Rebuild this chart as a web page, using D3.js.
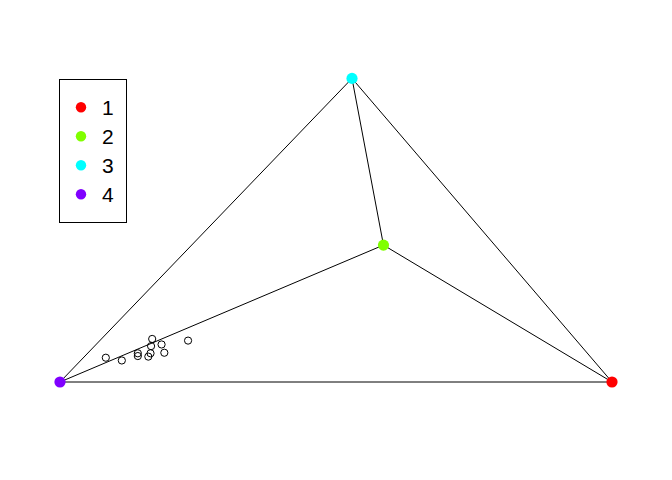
<!DOCTYPE html>
<html>
<head>
<meta charset="utf-8"/>
<title>Simplex plot</title>
<script src="https://d3js.org/d3.v7.min.js"></script>
<style>
  body { margin: 0; background: #fff; }
  svg { display: block; }
</style>
</head>
<body>
<svg width="672" height="480"></svg>
<script>
// vertex labels, colours and projected positions (x, y in plot units)
var vertexLabels = ["1", "2", "3", "4"];
var vertexColors = ["#FF0000", "#80FF00", "#00FFFF", "#8000FF"];
var vertexX = [1.000, 0.586, 0.529, 0.000];
var vertexY = [0.000, 0.248, 0.550, 0.000];

// observations, projected into the same plane
var pointX = [0.083, 0.112, 0.141, 0.141, 0.160, 0.164, 0.165, 0.167, 0.184, 0.189, 0.232];
var pointY = [0.044, 0.039, 0.052, 0.047, 0.046, 0.052, 0.065, 0.078, 0.068, 0.053, 0.075];

var svg = d3.select("svg");

// equal aspect: one unit = 552 px
var x = d3.scaleLinear().domain([0, 1]).range([60, 612]);
var y = d3.scaleLinear().domain([0, 1]).range([382, -170]);

// every edge of the tetrahedron
var edges = [];
for (var i = 0; i < vertexX.length; i++) {
  for (var j = i + 1; j < vertexX.length; j++) {
    edges.push([i, j]);
  }
}

svg.append("g").selectAll("line")
  .data(edges)
  .enter().append("line")
  .attr("x1", function(d) { return x(vertexX[d[0]]); })
  .attr("y1", function(d) { return y(vertexY[d[0]]); })
  .attr("x2", function(d) { return x(vertexX[d[1]]); })
  .attr("y2", function(d) { return y(vertexY[d[1]]); })
  .attr("stroke", "#000")
  .attr("stroke-width", 1);

svg.append("g").selectAll("circle")
  .data(pointX)
  .enter().append("circle")
  .attr("cx", function(d) { return x(d); })
  .attr("cy", function(d, i) { return y(pointY[i]); })
  .attr("r", 3.6)
  .attr("fill", "none")
  .attr("stroke", "#000")
  .attr("stroke-width", 1);

svg.append("g").selectAll("circle")
  .data(vertexLabels)
  .enter().append("circle")
  .attr("cx", function(d, i) { return x(vertexX[i]); })
  .attr("cy", function(d, i) { return y(vertexY[i]); })
  .attr("r", 5.6)
  .attr("fill", function(d, i) { return vertexColors[i]; });

// legend
var legend = svg.append("g");
legend.append("rect")
  .attr("x", 59.5).attr("y", 79.5)
  .attr("width", 67).attr("height", 143)
  .attr("fill", "none").attr("stroke", "#000").attr("stroke-width", 1);

var item = legend.selectAll("g.item")
  .data(vertexLabels)
  .enter().append("g")
  .attr("class", "item")
  .attr("transform", function(d, i) { return "translate(0," + (107.3 + i * 29) + ")"; });

item.append("circle")
  .attr("cx", 81).attr("cy", 0).attr("r", 5.2)
  .attr("fill", function(d, i) { return vertexColors[i]; });

item.append("text")
  .attr("x", 102).attr("y", 7.6)
  .attr("font-family", "Liberation Sans, Arial, sans-serif")
  .attr("font-size", "21px")
  .attr("fill", "#000")
  .text(function(d) { return d; });
</script>
</body>
</html>
